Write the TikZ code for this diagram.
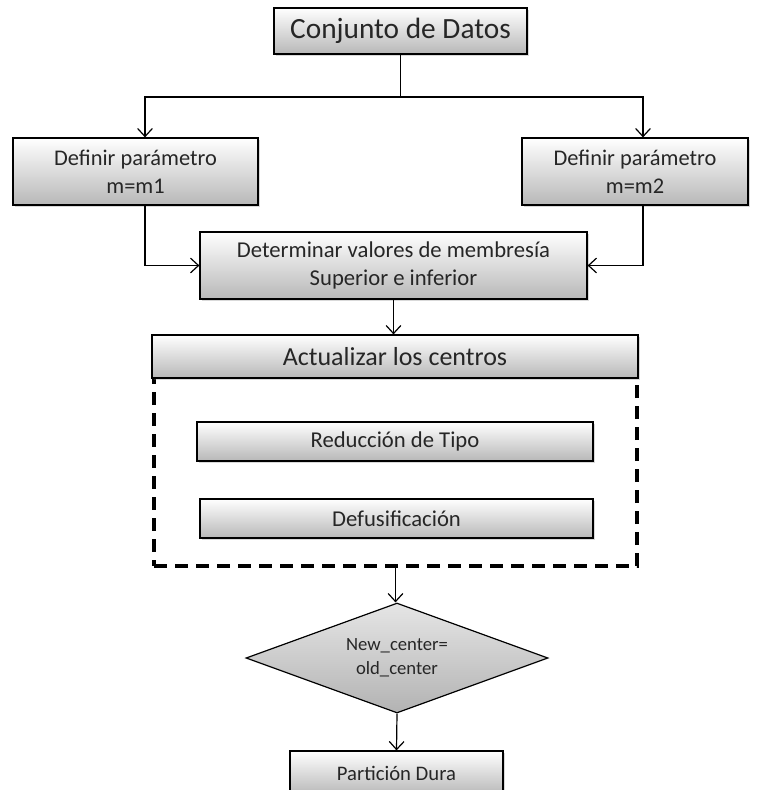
\documentclass[tikz,border=0pt]{standalone}
\usepackage{fontspec}
\setmainfont{Carlito}
\usetikzlibrary{arrows.meta,shapes.geometric,shadows}

\begin{document}
\begin{tikzpicture}[x=0.75pt, y=-0.75pt, line width=0.9pt, >={Straight Barb[length=6pt,width=11pt]},
	box/.style={rectangle, draw, top color=white, bottom color=black!28, drop shadow={opacity=0.3, shadow xshift=1.2pt, shadow yshift=-1.2pt}, inner sep=2pt, align=center, text=black!85, font=\fontsize{16.8}{21}\selectfont},
	decision/.style={diamond, draw, aspect=2.75, top color=black!10, bottom color=black!30, inner sep=0pt, align=center, text=black!85, font=\fontsize{14}{18}\selectfont},
	frame/.style={rectangle, draw, dash pattern=on 9.75pt off 6pt, line width=2.3pt}]
	\useasboundingbox (0,0) rectangle (758,790);
	\clip (0,0) rectangle (758,790);
	\node[box, minimum width=189.75pt, minimum height=34.5pt, font=\fontsize{22}{26}\selectfont](datos) at (400.5,31){Conjunto de Datos};
	\node[box, minimum width=183.75pt, minimum height=50.25pt](m1) at (135.5,171.5){Definir parámetro\\m=m1};
	\node[box, minimum width=169.5pt, minimum height=50.25pt](m2) at (635,171.5){Definir parámetro\\m=m2};
	\node[box, minimum width=290.25pt, minimum height=50.25pt, font=\fontsize{17}{21}\selectfont](det) at (393.5,265.5){Determinar valores de membresía\\Superior e inferior};
	\node[frame, minimum width=362.25pt, minimum height=144pt](grupo) at (395.5,470){};
	\node[box, minimum width=364.5pt, minimum height=32.25pt, font=\fontsize{19.5}{23}\selectfont](act) at (395,356.5){Actualizar los centros};
	\node[box, minimum width=297pt, minimum height=29.25pt, font=\fontsize{17}{21}\selectfont](red) at (395,441.5){Reducción de Tipo};
	\node[box, minimum width=294.75pt, minimum height=29.25pt, font=\fontsize{17}{21}\selectfont](defu) at (396.5,518.5){Defusificación};
	\node[decision, minimum width=226.5pt, minimum height=82.5pt](igual) at (397,658){New\_center=\\old\_center};
	\node[box, minimum width=159.75pt, minimum height=33pt, font=\fontsize{15.5}{19}\selectfont](part) at (396.5,773){Partición Dura};
	\coordinate (a1) at (145,97);
	\coordinate (a2) at (643,97);
	\draw[->](datos.south) |- (a1) -- (a1 |- m1.north);
	\draw[->](datos.south) |- (a2) -- (a2 |- m2.north);
	\draw[->](a1 |- m1.south) |- (det.west);
	\draw[->](a2 |- m2.south) |- (det.east);
	\draw[->](det.south) -- (det.south |- act.north);
	\draw[->](grupo.south) -- (grupo.south |- igual.north);
	\draw[->](igual.south) -- (part.north);
\end{tikzpicture}
\end{document}
